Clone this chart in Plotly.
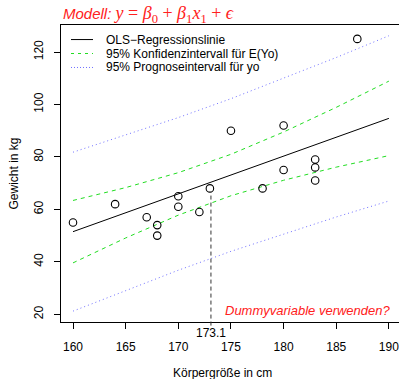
import plotly.graph_objects as go

# ---- data ----
height_cm = [160, 164, 167, 168, 168, 170, 170, 172, 173, 175, 178, 180, 180, 183, 183, 183, 187]
weight_kg = [55, 62, 57, 54, 50, 65, 61, 59, 68, 90, 68, 92, 75, 79, 76, 71, 125]

grid_x = [160, 165, 170, 175, 180, 185, 190]
fit_y = [51.5, 58.7, 65.9, 73.1, 80.3, 87.5, 94.7]
ci_upper = [63.4, 68.3, 74.0, 81.0, 89.5, 98.9, 108.9]
ci_lower = [39.6, 49.1, 57.8, 65.2, 71.1, 76.1, 80.5]
pi_upper = [81.8, 88.3, 95.0, 102.2, 109.9, 117.9, 126.2]
pi_lower = [21.2, 29.1, 36.8, 44.0, 50.7, 57.1, 63.2]

x0_value = 173.1
x0_top = 66.5

x_ticks = [160, 165, 170, 175, 180, 185, 190]
y_ticks = [20, 40, 60, 80, 100, 120]

legend_labels = ["OLS\u2212Regressionslinie",
                 "95% Konfidenzintervall f\u00fcr E(Yo)",
                 "95% Prognoseintervall f\u00fcr yo"]

x_range = [158.86, 190.96]
y_range = [17.06, 130.3]

BLACK = "#000000"
GREEN = "#22dd22"
BLUE = "#7070ff"
RED = "#ff2020"
FONT = "Liberation Sans, Arial, Helvetica, sans-serif"

fig = go.Figure()

fig.add_trace(go.Scatter(x=grid_x, y=pi_upper, mode="lines",
                         line=dict(color=BLUE, width=1, dash="1px,3px"), showlegend=False))
fig.add_trace(go.Scatter(x=grid_x, y=pi_lower, mode="lines",
                         line=dict(color=BLUE, width=1, dash="1px,3px"), showlegend=False))
fig.add_trace(go.Scatter(x=grid_x, y=ci_upper, mode="lines",
                         line=dict(color=GREEN, width=1, dash="4px,4px"), showlegend=False))
fig.add_trace(go.Scatter(x=grid_x, y=ci_lower, mode="lines",
                         line=dict(color=GREEN, width=1, dash="4px,4px"), showlegend=False))
fig.add_trace(go.Scatter(x=[grid_x[0], grid_x[-1]], y=[fit_y[0], fit_y[-1]], mode="lines",
                         line=dict(color=BLACK, width=1), showlegend=False))
fig.add_trace(go.Scatter(x=height_cm, y=weight_kg, mode="markers",
                         marker=dict(symbol="circle-open", size=7.5, color=BLACK,
                                     line=dict(width=1.1, color=BLACK)),
                         showlegend=False))

# vertical dashed line at x0 (extends slightly below the frame)
y_top_paper = (x0_top - y_range[0]) / (y_range[1] - y_range[0])
fig.add_shape(type="line", xref="x", yref="paper", x0=x0_value, x1=x0_value,
              y0=-0.012, y1=y_top_paper,
              line=dict(color="#333333", width=1, dash="4px,3px"))

# manual legend (R-style, inside plot, top-left)
leg_styles = [dict(color=BLACK, width=1),
              dict(color=GREEN, width=1, dash="3px,4px"),
              dict(color=BLUE, width=1, dash="1px,2px")]
leg_y = [0.951, 0.904, 0.857]
for lab, st, yy in zip(legend_labels, leg_styles, leg_y):
    fig.add_shape(type="line", xref="paper", yref="paper", x0=0.0296, x1=0.0947,
                  y0=yy, y1=yy, line=st)
    fig.add_annotation(xref="paper", yref="paper", x=0.127, y=yy, text=lab,
                       showarrow=False, xanchor="left", yanchor="middle",
                       font=dict(family=FONT, size=12, color=BLACK))

# title (red, italic, math)
title_html = ("<i>Modell: </i><span style='font-family:Liberation Serif, serif;font-size:18px'>"
              "<i>y</i> = <i>\u03b2</i><sub>0</sub> + <i>\u03b2</i><sub>1</sub>"
              "<i>x</i><sub>1</sub> + <i>\u03f5</i></span>")
fig.add_annotation(xref="paper", yref="paper", x=0.0, y=1.037, text=title_html,
                   showarrow=False, xanchor="left", yanchor="middle",
                   font=dict(family=FONT, size=15, color=RED))

fig.add_annotation(xref="paper", yref="paper", x=0.982, y=0.038,
                   text="<i>Dummyvariable verwenden?</i>",
                   showarrow=False, xanchor="right", yanchor="middle",
                   font=dict(family=FONT, size=13, color=RED))

fig.add_annotation(xref="x", yref="paper", x=x0_value, y=-0.037, text=str(x0_value),
                   showarrow=False, xanchor="center", yanchor="middle",
                   font=dict(family=FONT, size=12, color=BLACK))

fig.add_annotation(xref="paper", yref="paper", x=0.478, y=-0.172,
                   text="K\u00f6rpergr\u00f6\u00dfe in cm", showarrow=False,
                   xanchor="center", yanchor="middle",
                   font=dict(family=FONT, size=12, color=BLACK))
fig.add_annotation(xref="paper", yref="paper", x=-0.142, y=0.5,
                   text="Gewicht in kg", showarrow=False, textangle=-90,
                   xanchor="center", yanchor="middle",
                   font=dict(family=FONT, size=12, color=BLACK))

fig.update_layout(
    width=399, height=379,
    margin=dict(l=61, r=0, t=25, b=57),
    paper_bgcolor="white", plot_bgcolor="white",
    showlegend=False,
    font=dict(family=FONT, size=12, color=BLACK),
    xaxis=dict(range=x_range, tickvals=x_ticks, ticks="outside", ticklen=6,
               tickcolor=BLACK, showline=True, linecolor=BLACK, linewidth=1,
               mirror=True, showgrid=False, zeroline=False,
               ticklabelstandoff=8, ticklabeloverflow="allow", tickfont=dict(size=12)),
    yaxis=dict(range=y_range, tickvals=y_ticks, ticks="outside", ticklen=6,
               tickcolor=BLACK, showline=True, linecolor=BLACK, linewidth=1,
               mirror=False, showgrid=False, zeroline=False, tickangle=-90,
               ticklabelstandoff=6, tickfont=dict(size=12)),
)

fig.write_html("out.html", config={"displayModeBar": False},
               post_script="document.body.style.margin='0';document.body.style.padding='0';")
